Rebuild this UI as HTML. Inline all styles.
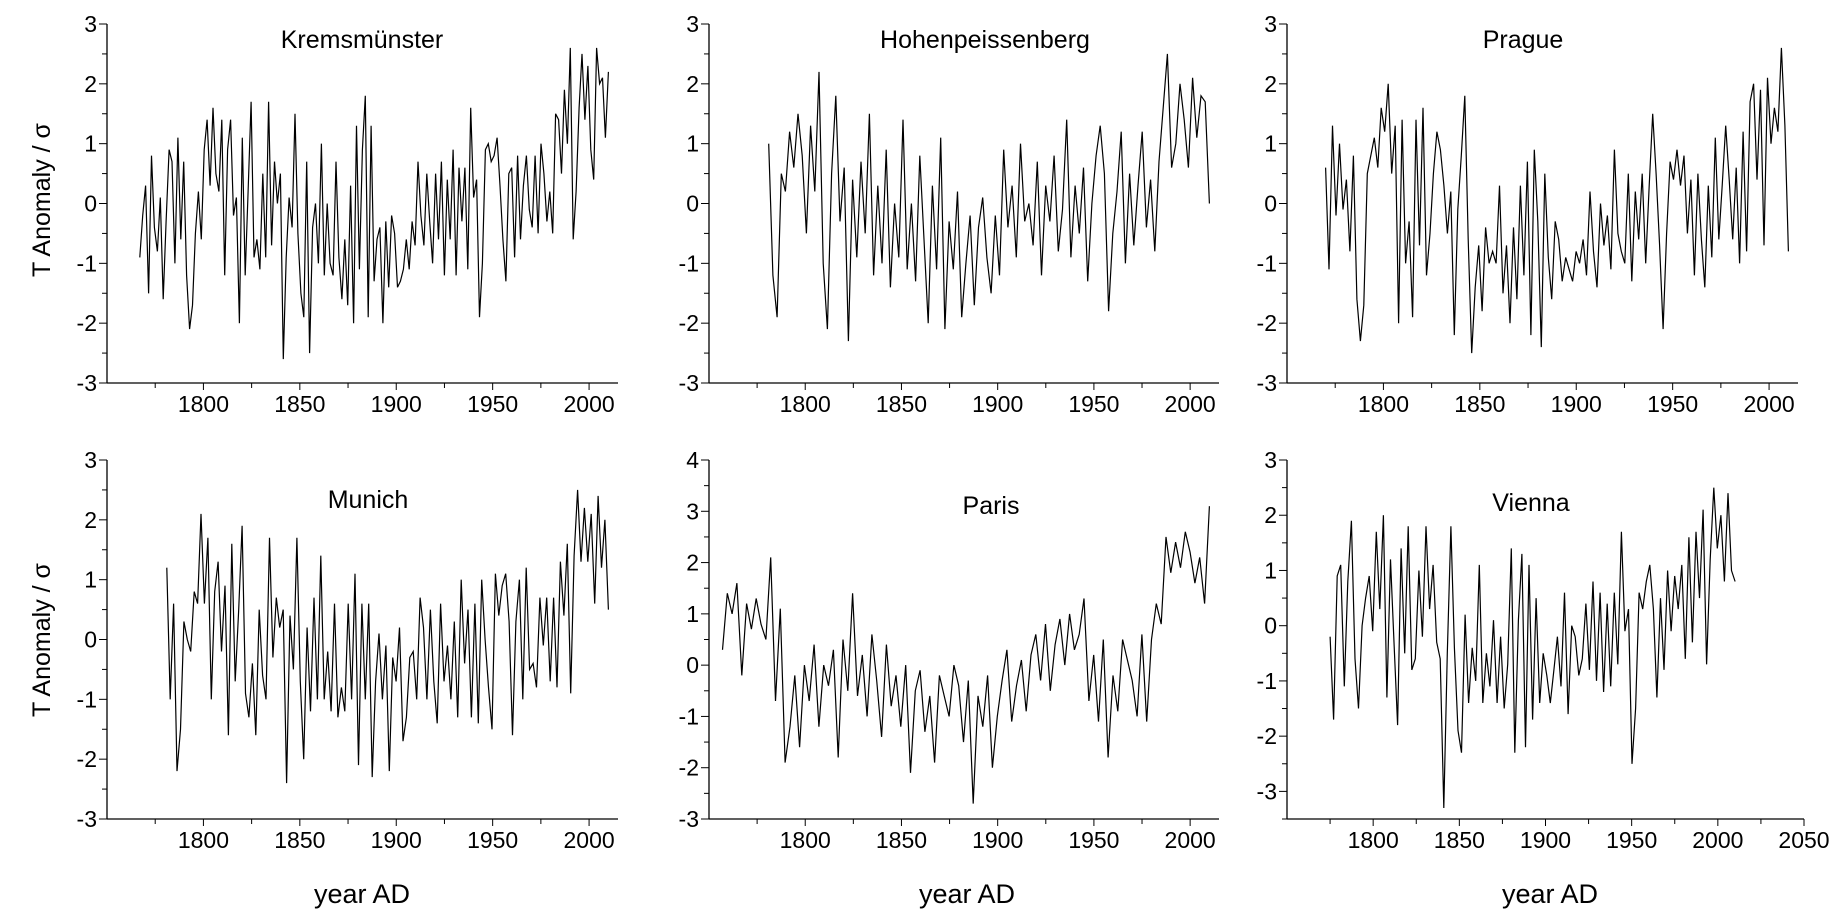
<!DOCTYPE html>
<html><head><meta charset="utf-8">
<style>
body{margin:0;background:#fff;}
svg{display:block;font-family:"Liberation Sans",Arial,sans-serif;}
</style></head>
<body>
<svg id="chart" width="1835" height="913" viewBox="0 0 1835 913" xmlns="http://www.w3.org/2000/svg"></svg>
<script>
// ---- data ----
const stationNames = ["Kremsmünster","Hohenpeissenberg","Prague","Munich","Paris","Vienna"];
const startYears = [1767,1781,1770,1781,1757,1775];
const endYears = [2010,2010,2010,2010,2010,2010];
const kremsValues = [-0.9,-0.2,0.3,-1.5,0.8,-0.4,-0.8,0.1,-1.6,-0.3,0.9,0.7,-1.0,1.1,-0.6,0.7,-1.2,-2.1,-1.7,-0.5,0.2,-0.6,0.9,1.4,0.3,1.6,0.5,0.2,1.4,-1.2,0.9,1.4,-0.2,0.1,-2.0,1.1,-1.2,0.2,1.7,-0.9,-0.6,-1.1,0.5,-0.9,1.7,-0.7,0.7,0.0,0.5,-2.6,-0.9,0.1,-0.4,1.5,-0.5,-1.5,-1.9,0.7,-2.5,-0.4,0.0,-1.0,1.0,-1.2,0.0,-1.0,-1.2,0.7,-0.9,-1.6,-0.6,-1.7,0.3,-2.0,1.3,-1.1,0.9,1.8,-1.9,1.3,-1.3,-0.6,-0.4,-2.0,-0.3,-1.4,-0.2,-0.5,-1.4,-1.3,-1.1,-0.6,-1.1,-0.3,-0.7,0.7,-0.2,-0.7,0.5,-0.3,-1.0,0.5,-0.6,0.7,-1.2,0.4,-0.6,0.9,-1.2,0.6,-0.3,0.6,-1.1,1.6,0.1,0.4,-1.9,-1.0,0.9,1.0,0.7,0.8,1.1,0.3,-0.6,-1.3,0.5,0.6,-0.9,0.8,-0.6,0.3,0.8,-0.1,-0.4,0.8,-0.5,1.0,0.5,-0.3,0.2,-0.5,1.5,1.4,0.5,1.9,1.0,2.6,-0.6,0.2,1.6,2.5,1.4,2.3,0.9,0.4,2.6,2.0,2.1,1.1,2.2];
const hohenValues = [1.0,-1.2,-1.9,0.5,0.2,1.2,0.6,1.5,0.8,-0.5,1.3,0.2,2.2,-1.0,-2.1,0.5,1.8,-0.3,0.6,-2.3,0.4,-0.9,0.7,-0.5,1.5,-1.2,0.3,-1.0,0.9,-1.4,0.0,-0.9,1.4,-1.1,0.0,-1.3,0.8,-0.6,-2.0,0.3,-1.1,1.1,-2.1,-0.3,-1.1,0.2,-1.9,-1.0,-0.2,-1.7,-0.4,0.1,-0.9,-1.5,-0.2,-1.2,0.9,-0.4,0.3,-0.9,1.0,-0.3,0.0,-0.7,0.7,-1.2,0.3,-0.3,0.8,-0.8,-0.1,1.4,-0.9,0.3,-0.5,0.6,-1.3,0.0,0.8,1.3,0.5,-1.8,-0.5,0.2,1.2,-1.0,0.5,-0.7,0.3,1.2,-0.4,0.4,-0.8,0.7,1.6,2.5,0.6,1.0,2.0,1.4,0.6,2.1,1.1,1.8,1.7,0.0];
const pragueValues = [0.6,-1.1,1.3,-0.2,1.0,-0.1,0.4,-0.8,0.8,-1.6,-2.3,-1.7,0.5,0.8,1.1,0.6,1.6,1.2,2.0,0.5,1.3,-2.0,1.4,-1.0,-0.3,-1.9,1.4,-0.7,1.6,-1.2,-0.5,0.5,1.2,0.9,0.3,-0.5,0.2,-2.2,-0.1,0.8,1.8,-0.6,-2.5,-1.4,-0.7,-1.8,-0.4,-1.0,-0.8,-1.0,0.3,-1.5,-0.7,-2.0,-0.4,-1.6,0.3,-1.2,0.7,-2.2,0.9,-0.3,-2.4,0.5,-0.9,-1.6,-0.3,-0.6,-1.3,-0.9,-1.1,-1.3,-0.8,-1.0,-0.6,-1.2,0.2,-0.8,-1.4,0.0,-0.7,-0.2,-1.1,0.9,-0.5,-0.8,-1.0,0.5,-1.3,0.2,-0.6,0.5,-1.0,0.3,1.5,0.5,-0.7,-2.1,-0.5,0.7,0.4,0.9,0.3,0.8,-0.5,0.4,-1.2,0.5,-0.6,-1.4,0.3,-0.9,1.1,-0.6,0.3,1.3,0.4,-0.6,0.6,-1.0,1.2,-0.8,1.7,2.0,0.4,1.9,-0.7,2.1,1.0,1.6,1.2,2.6,1.3,-0.8];
const munichValues = [1.2,-1.0,0.6,-2.2,-1.5,0.3,0.0,-0.2,0.8,0.6,2.1,0.6,1.7,-1.0,0.8,1.3,-0.2,0.9,-1.6,1.6,-0.7,0.5,1.9,-0.9,-1.3,-0.4,-1.6,0.5,-0.6,-1.0,1.7,-0.3,0.7,0.2,0.5,-2.4,0.4,-0.5,1.7,-0.7,-2.0,0.2,-1.2,0.7,-1.0,1.4,-1.0,-0.2,-1.2,0.6,-1.3,-0.8,-1.2,0.6,-1.0,1.1,-2.1,0.6,-1.0,0.6,-2.3,-0.7,0.1,-1.0,-0.1,-2.2,-0.3,-0.7,0.2,-1.7,-1.3,-0.3,-0.2,-1.0,0.7,0.2,-1.0,0.5,-0.7,-1.4,0.6,-0.7,-0.1,-1.0,0.3,-1.3,1.0,-0.4,0.5,-1.3,0.6,-1.4,1.0,0.0,-0.8,-1.5,1.1,0.4,0.9,1.1,0.3,-1.6,0.3,1.0,-1.0,1.2,-0.5,-0.4,-0.8,0.7,-0.1,0.7,-0.7,0.7,-0.8,1.3,0.4,1.6,-0.9,1.4,2.5,1.3,2.2,1.3,2.1,0.6,2.4,1.2,2.0,0.5];
const parisValues = [0.3,1.4,1.0,1.6,-0.2,1.2,0.7,1.3,0.8,0.5,2.1,-0.7,1.1,-1.9,-1.2,-0.2,-1.6,0.0,-0.7,0.4,-1.2,0.0,-0.4,0.3,-1.8,0.5,-0.5,1.4,-0.6,0.2,-1.0,0.6,-0.3,-1.4,0.4,-0.8,-0.2,-1.2,0.0,-2.1,-0.5,-0.1,-1.3,-0.6,-1.9,-0.2,-0.6,-1.0,0.0,-0.4,-1.5,-0.3,-2.7,-0.6,-1.2,-0.2,-2.0,-1.0,-0.3,0.3,-1.1,-0.4,0.1,-0.9,0.2,0.6,-0.3,0.8,-0.5,0.4,0.9,0.0,1.0,0.3,0.6,1.3,-0.7,0.2,-1.1,0.5,-1.8,-0.2,-0.9,0.5,0.1,-0.3,-1.0,0.6,-1.1,0.5,1.2,0.8,2.5,1.8,2.4,1.9,2.6,2.2,1.6,2.1,1.2,3.1];
const viennaValues = [-0.2,-1.7,0.9,1.1,-1.1,0.8,1.9,-0.6,-1.5,0.0,0.5,0.9,-0.1,1.7,0.3,2.0,-1.3,1.2,-0.3,-1.8,1.4,-0.5,1.8,-0.8,-0.6,1.0,-0.2,1.8,0.3,1.1,-0.3,-0.6,-3.3,-0.5,1.8,-0.4,-1.9,-2.3,0.2,-1.4,-0.4,-1.0,1.1,-1.4,-0.5,-1.1,0.1,-1.4,-0.2,-1.5,-0.7,1.4,-2.3,0.1,1.3,-2.2,1.1,-1.7,0.5,-1.4,-0.5,-0.9,-1.4,-0.8,-0.2,-1.1,0.6,-1.6,0.0,-0.2,-0.9,-0.6,0.4,-0.8,0.8,-1.0,0.6,-1.2,0.4,-1.1,0.6,-0.7,1.7,-0.1,0.3,-2.5,-1.5,0.6,0.3,0.8,1.1,0.3,-1.3,0.5,-0.8,1.0,-0.1,0.9,0.3,1.1,-0.6,1.6,-0.3,1.7,0.5,2.1,-0.7,1.2,2.5,1.4,2.0,0.8,2.4,1.0,0.8];
const yMins = [-3,-3,-3,-3,-3,-3.5];
const yMaxs = [3,3,3,3,4,3];
const yTickLabels = [["-3","-2","-1","0","1","2","3"],["-3","-2","-1","0","1","2","3"],["-3","-2","-1","0","1","2","3"],["-3","-2","-1","0","1","2","3"],["-3","-2","-1","0","1","2","3","4"],["-3","-2","-1","0","1","2","3"]];
const xMaxs = [2015,2015,2015,2015,2015,2050];
const xTickLabels = [["1800","1850","1900","1950","2000"],["1800","1850","1900","1950","2000"],["1800","1850","1900","1950","2000"],["1800","1850","1900","1950","2000"],["1800","1850","1900","1950","2000"],["1800","1850","1900","1950","2000","2050"]];
const allValues = [kremsValues,hohenValues,pragueValues,munichValues,parisValues,viennaValues];

// ---- layout ----
const NS = "http://www.w3.org/2000/svg";
const svg = document.getElementById('chart');
const frames = [
  {l:107,t:24,w:511,h:359},{l:709,t:24,w:510,h:359},{l:1287,t:24,w:511,h:359},
  {l:107,t:460,w:511,h:359},{l:709,t:460,w:510,h:359},{l:1287,t:460,w:517,h:359}
];
const titlePos = [[362,40],[985,40],[1523,40],[368,500],[991,506],[1531,503]];
function mk(tag, attrs, parent){
  const e = document.createElementNS(NS, tag);
  for (const k in attrs) e.setAttribute(k, attrs[k]);
  (parent||svg).appendChild(e);
  return e;
}
function slug(s){return s.toLowerCase().replace(/ü/g,'u').replace(/[^a-z]+/g,'-');}

frames.forEach((f, i) => {
  const g = mk('g', {});
  
  
  const xMin = 1750, xMax = xMaxs[i], yMin = yMins[i], yMax = yMaxs[i];
  const xs = y => f.l + (y - xMin) / (xMax - xMin) * f.w;
  const ys = v => f.t + (yMax - v) / (yMax - yMin) * f.h;
  const bottom = f.t + f.h;
  // axes
  const ya = mk('line', {x1:f.l, y1:f.t, x2:f.l, y2:bottom, stroke:'#000', 'stroke-width':1.3}, g);
  
  
  const xa = mk('line', {x1:f.l, y1:bottom, x2:f.l + f.w, y2:bottom, stroke:'#000', 'stroke-width':1.3}, g);
  
  
  // y ticks (every 0.5)
  for (let v = yMin; v <= yMax + 1e-9; v += 0.5) {
    const major = Math.abs(v - Math.round(v)) < 1e-9;
    mk('line', {x1:f.l - (major ? 8 : 5), y1:ys(v), x2:f.l, y2:ys(v), stroke:'#000', 'stroke-width':1}, g);
  }
  yTickLabels[i].forEach(lbl => {
    const t = mk('text', {x:f.l - 10, y:ys(+lbl) + 8, 'text-anchor':'end', 'font-size':23}, g);
    t.textContent = lbl;
    
    
  });
  // x ticks (every 25)
  for (let yr = 1775; yr <= xMax; yr += 25) {
    mk('line', {x1:xs(yr), y1:bottom, x2:xs(yr), y2:bottom + (yr % 50 === 0 ? 7 : 5), stroke:'#000', 'stroke-width':1}, g);
  }
  xTickLabels[i].forEach(lbl => {
    const t = mk('text', {x:xs(+lbl), y:bottom + 29, 'text-anchor':'middle', 'font-size':23}, g);
    t.textContent = lbl;
    
    
  });
  // series
  const vals = allValues[i];
  const n = vals.length;
  const step = (endYears[i] - startYears[i]) / (n - 1);
  const pts = vals.map((v, k) => xs(startYears[i] + k * step).toFixed(1) + ',' + ys(v).toFixed(1)).join(' ');
  const pl = mk('polyline', {points:pts, fill:'none', stroke:'#000', 'stroke-width':1.2, 'stroke-linejoin':'miter'}, g);
  
  
  // title
  const tt = mk('text', {x:titlePos[i][0], y:titlePos[i][1] + 8, 'text-anchor':'middle', 'font-size':25}, g);
  tt.textContent = stationNames[i];
  
  
});

// axis titles
[[200],[640]].forEach((c, r) => {
  const t = mk('text', {x:0, y:0, 'text-anchor':'middle', 'font-size':25, transform:'translate(50,' + c[0] + ') rotate(-90)'});
  t.textContent = 'T Anomaly / σ';
  
  
});
[362, 967, 1550].forEach(x => {
  const t = mk('text', {x:x, y:903, 'text-anchor':'middle', 'font-size':27});
  t.textContent = 'year AD';
  
  
});
</script>
</body></html>
